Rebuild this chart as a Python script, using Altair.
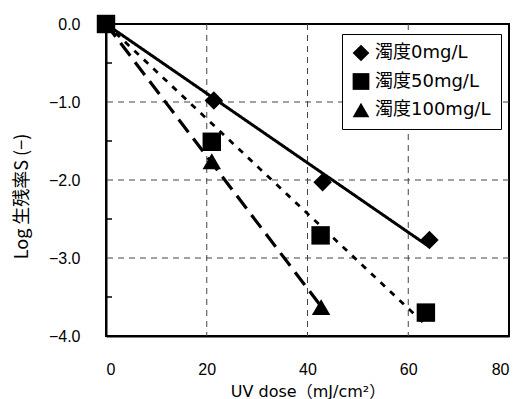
import altair as alt
import numpy as np
import pandas as pd

series = ["濁度0mg/L", "濁度50mg/L", "濁度100mg/L"]
dose_0 = [0, 21.4, 43.0, 64.2]
logs_0 = [0.0, -0.98, -2.03, -2.77]
dose_50 = [0, 21.0, 42.6, 63.5]
logs_50 = [0.0, -1.51, -2.71, -3.70]
dose_100 = [0, 21.0, 42.7]
logs_100 = [0.0, -1.76, -3.63]

x_ticks = [0, 20, 40, 60, 80]
y_ticks = [0, -1, -2, -3, -4]
x_grid = [20, 40, 60]
y_grid = [-1, -2, -3]
y_minor = [-0.5, -1.5, -2.5, -3.5]

pts = []
lines = []
for i, (name, xs_, ys_) in enumerate([(series[0], dose_0, logs_0), (series[1], dose_50, logs_50), (series[2], dose_100, logs_100)]):
    for x, y in zip(xs_, ys_):
        pts.append({"series": name, "dose": x, "logS": y})
    xa, ya = np.array(xs_), np.array(ys_)
    slope = float((xa * ya).sum() / (xa * xa).sum())
    lines.append({"fit": i, "dose": 0.0, "logS": 0.0})
    lines.append({"fit": i, "dose": float(xa.max()), "logS": slope * float(xa.max())})

pts_df = pd.DataFrame(pts)
order_map = {series[0]: 0, series[2]: 1, series[1]: 2}
pts_df["ord"] = pts_df["series"].map(order_map)
pts_df = pts_df.sort_values("ord")
lines_df = pd.DataFrame(lines)

xs = alt.Scale(domain=[0, 80], nice=False)
ys = alt.Scale(domain=[-4, 0], nice=False)

grid_color = "#444444"
vgrid = alt.Chart(pd.DataFrame({"g": x_grid})).mark_rule(
    color=grid_color, strokeWidth=1, strokeDash=[6, 5]
).encode(x=alt.X("g:Q", scale=xs))
hgrid = alt.Chart(pd.DataFrame({"g": y_grid})).mark_rule(
    color=grid_color, strokeWidth=1, strokeDash=[6, 5]
).encode(y=alt.Y("g:Q", scale=ys))
minor = alt.Chart(pd.DataFrame({"m": y_minor})).mark_rule(
    color="black", strokeWidth=1.5
).encode(y=alt.Y("m:Q", scale=ys), x=alt.value(0), x2=alt.value(6))

line_styles = [([1, 0], 3.0), ([6, 7], 2.8), ([16, 8], 3.2)]
line_layers = []
for i, (dash, w) in enumerate(line_styles):
    line_layers.append(
        alt.Chart(lines_df).transform_filter(alt.datum.fit == i)
        .mark_line(color="black", strokeDash=dash, strokeWidth=w)
        .encode(x=alt.X("dose:Q", scale=xs), y=alt.Y("logS:Q", scale=ys))
    )

mixed_font = "DejaVu Sans, Noto Sans CJK JP"

point_layer = alt.Chart(pts_df).mark_point(filled=True, color="black", opacity=1, size=340).encode(
    x=alt.X("dose:Q", scale=xs,
            axis=alt.Axis(values=x_ticks, grid=False, ticks=False, labelFontSize=16, labelPadding=25,
                          labelFont="Liberation Sans", labelColor="black",
                          domainColor="black", domainWidth=2,
                          title="UV dose（mJ/cm²）", titleFont=mixed_font, titleFontSize=16,
                          titleFontWeight="normal", titleColor="black",
                          titleY=55, titleBaseline="middle")),
    y=alt.Y("logS:Q", scale=ys,
            axis=alt.Axis(values=y_ticks, format=".1f", grid=False, ticks=False, labelFontSize=16,
                          labelPadding=26, labelFont="Liberation Sans", labelColor="black",
                          domainColor="black", domainWidth=2,
                          title="Log 生残率S (−)", titleFont="Noto Sans CJK JP", titleFontSize=18,
                          titleFontWeight="normal", titleColor="black",
                          titleX=-84, titleY=172, titleAlign="center", titleBaseline="middle", titleAngle=-90)),
    shape=alt.Shape("series:N", scale=alt.Scale(domain=series, range=["diamond", "square", "triangle-up"]),
                    legend=alt.Legend(title=None, orient="none", legendX=236, legendY=10,
                                      strokeColor="black", fillColor="white", padding=10,
                                      labelFont=mixed_font, labelFontSize=18, labelColor="black",
                                      symbolSize=280, symbolFillColor="black", symbolStrokeColor="black",
                                      symbolStrokeWidth=0,
                                      rowPadding=10.5, labelOffset=5)),
    order=alt.Order("ord:Q"),
)

chart = alt.layer(vgrid, hgrid, minor, *line_layers, point_layer).properties(
    width=403, height=312,
    autosize=alt.AutoSizeParams(type="none"),
    padding={"left": 106, "top": 24, "right": 11, "bottom": 63},
    background="white",
).configure_view(stroke="black", strokeWidth=2)

chart.save("out.html", embed_options={"renderer": "svg", "actions": False})
